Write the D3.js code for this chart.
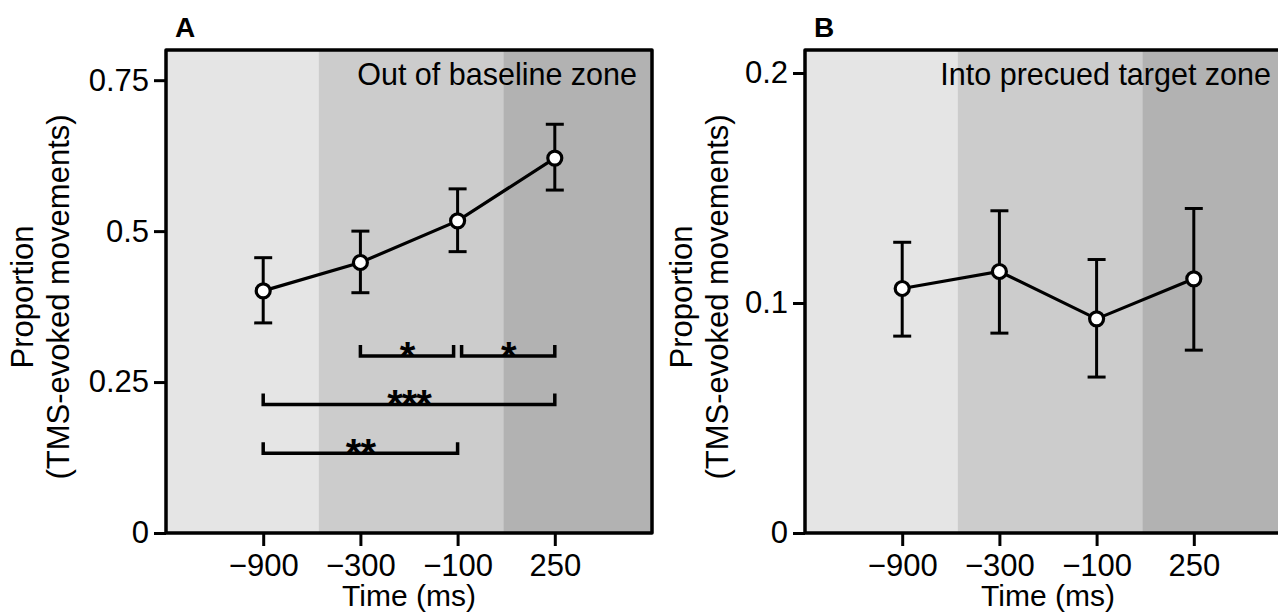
<!DOCTYPE html>
<html>
<head>
<meta charset="utf-8">
<script src="https://cdn.jsdelivr.net/npm/d3@7"></script>
<style>
  body { margin: 0; background: #fff; }
  svg { display: block; font-family: "Liberation Sans", Arial, sans-serif; }
</style>
</head>
<body>
<svg id="chart" width="1278" height="615"></svg>
<script>
// categories on the x axis (time of TMS pulse)
const categories = ["\u2212900", "\u2212300", "\u2212100", "250"];

// background zones, in category-index units (0..5)
const zoneEdges = [0, 1.57, 3.47, 5];
const zoneFills = ["#e5e5e5", "#cccccc", "#b2b2b2"];

// panel A: out of baseline zone
const meanA = [0.401, 0.448, 0.517, 0.621];
const lowA = [0.348, 0.398, 0.466, 0.568];
const highA = [0.456, 0.500, 0.570, 0.677];
const yTicksA = [0, 0.25, 0.5, 0.75];
const yLabelsA = ["0", "0.25", "0.5", "0.75"];

// panel B: into precued target zone
const meanB = [0.1063, 0.1137, 0.0931, 0.1105];
const lowB = [0.0856, 0.0869, 0.0678, 0.0795];
const highB = [0.1264, 0.1401, 0.1189, 0.1411];
const yTicksB = [0, 0.1, 0.2];
const yLabelsB = ["0", "0.1", "0.2"];

// significance brackets in panel A (from / to category index, level, stars)
const bracketFrom = [1, 2, 0, 0];
const bracketTo = [2, 3, 3, 2];
const bracketLevel = [0.293, 0.293, 0.213, 0.132];
const bracketStars = ["*", "*", "***", "**"];

const svg = d3.select("#chart");

/**
 * draw one panel
 */
const drawPanel = (opt) => {
    const top = 50, bottom = 533, w = 486;
    const x = d3.scaleLinear().domain([0, 5]).range([opt.left, opt.left + w]);
    const y = d3.scaleLinear().domain([0, opt.yMax]).range([bottom, top]);
    const g = svg.append("g");

    // zones
    g.selectAll("rect.zone")
        .data(zoneFills)
        .enter()
        .append("rect")
        .attr("class", "zone")
        .attr("x", (d, i) => x(zoneEdges[i]))
        .attr("y", top)
        .attr("width", (d, i) => x(zoneEdges[i + 1]) - x(zoneEdges[i]))
        .attr("height", bottom - top)
        .attr("fill", d => d);

    // y axis
    const yAxis = d3.axisLeft(y)
        .tickValues(opt.yTicks)
        .tickFormat((d, i) => opt.yLabels[i])
        .tickSize(12)
        .tickPadding(5);
    const ya = g.append("g").attr("transform", `translate(${opt.left},0)`).call(yAxis);
    ya.select(".domain").remove();
    ya.selectAll("line").attr("stroke-width", 3);
    ya.selectAll("text").attr("font-size", 31).attr("font-family", null).attr("fill", "#000");

    // x axis
    const xAxis = d3.axisBottom(x)
        .tickValues([1, 2, 3, 4])
        .tickFormat((d, i) => categories[i])
        .tickSize(13)
        .tickPadding(8);
    const xa = g.append("g").attr("transform", `translate(0,${bottom})`).call(xAxis);
    xa.select(".domain").remove();
    xa.selectAll("line").attr("stroke-width", 3);
    xa.selectAll("text").attr("font-size", 31).attr("font-family", null).attr("fill", "#000");

    // error bars
    const eb = g.append("g").attr("stroke", "#000").attr("stroke-width", 3);
    opt.mean.forEach((m, i) => {
        const cx = x(i + 1);
        eb.append("line").attr("x1", cx).attr("x2", cx).attr("y1", y(opt.low[i])).attr("y2", y(opt.high[i]));
        eb.append("line").attr("x1", cx - 9).attr("x2", cx + 9).attr("y1", y(opt.low[i])).attr("y2", y(opt.low[i]));
        eb.append("line").attr("x1", cx - 9).attr("x2", cx + 9).attr("y1", y(opt.high[i])).attr("y2", y(opt.high[i]));
    });

    // line + markers
    const line = d3.line().x((d, i) => x(i + 1)).y(d => y(d));
    g.append("path")
        .datum(opt.mean)
        .attr("d", line)
        .attr("fill", "none")
        .attr("stroke", "#000")
        .attr("stroke-width", 3.2);
    g.selectAll("circle.pt")
        .data(opt.mean)
        .enter()
        .append("circle")
        .attr("class", "pt")
        .attr("cx", (d, i) => x(i + 1))
        .attr("cy", d => y(d))
        .attr("r", 7)
        .attr("fill", "#fff")
        .attr("stroke", "#000")
        .attr("stroke-width", 3.2);

    // frame
    g.append("rect")
        .attr("x", opt.left)
        .attr("y", top)
        .attr("width", w)
        .attr("height", bottom - top)
        .attr("fill", "none")
        .attr("stroke", "#000")
        .attr("stroke-width", 3.5)
        .attr("stroke-linejoin", "round");

    // zone title
    g.append("text")
        .attr("x", opt.left + w - opt.titleInset)
        .attr("y", 85)
        .attr("text-anchor", "end")
        .attr("font-size", 30.5)
        .text(opt.title);

    // panel letter
    g.append("text")
        .attr("x", opt.left + 9)
        .attr("y", 37)
        .attr("font-size", 28)
        .attr("font-weight", "bold")
        .text(opt.letter);

    // axis titles
    const yt = g.append("text")
        .attr("transform", `translate(${opt.left - opt.yTitleOffset},297) rotate(-90)`)
        .attr("text-anchor", "middle")
        .attr("font-size", 31);
    yt.append("tspan").attr("x", 0).attr("y", 0).text("Proportion");
    yt.append("tspan").attr("x", 0).attr("y", 36).text("(TMS-evoked movements)");

    g.append("text")
        .attr("x", x(2.5))
        .attr("y", 606)
        .attr("text-anchor", "middle")
        .attr("font-size", 30)
        .text("Time (ms)");

    return { g, x, y };
};

const A = drawPanel({
    left: 166, yMax: 0.8, letter: "A", title: "Out of baseline zone",
    titleInset: 15, yTitleOffset: 133,
    mean: meanA, low: lowA, high: highA, yTicks: yTicksA, yLabels: yLabelsA
});

drawPanel({
    left: 805, yMax: 0.21, letter: "B", title: "Into precued target zone",
    titleInset: 20, yTitleOffset: 113,
    mean: meanB, low: lowB, high: highB, yTicks: yTicksB, yLabels: yLabelsB
});

// significance brackets on panel A
const br = A.g.append("g");
bracketStars.forEach((s, i) => {
    let x1 = A.x(bracketFrom[i] + 1);
    let x2 = A.x(bracketTo[i] + 1);
    // shorten brackets that share an end point with a neighbour
    if (bracketLevel.some((l, j) => j !== i && l === bracketLevel[i] && bracketFrom[j] === bracketTo[i])) x2 -= 4;
    if (bracketLevel.some((l, j) => j !== i && l === bracketLevel[i] && bracketTo[j] === bracketFrom[i])) x1 += 4;
    const yy = A.y(bracketLevel[i]);
    br.append("path")
        .attr("d", `M${x1},${yy - 11}V${yy}H${x2}V${yy - 11}`)
        .attr("fill", "none")
        .attr("stroke", "#000")
        .attr("stroke-width", 3.5);
    br.append("text")
        .attr("x", (x1 + x2) / 2)
        .attr("y", yy + 14)
        .attr("text-anchor", "middle")
        .attr("font-size", 40)
        .attr("font-weight", "bold")
        .attr("letter-spacing", -1)
        .text(s);
});
</script>
</body>
</html>
